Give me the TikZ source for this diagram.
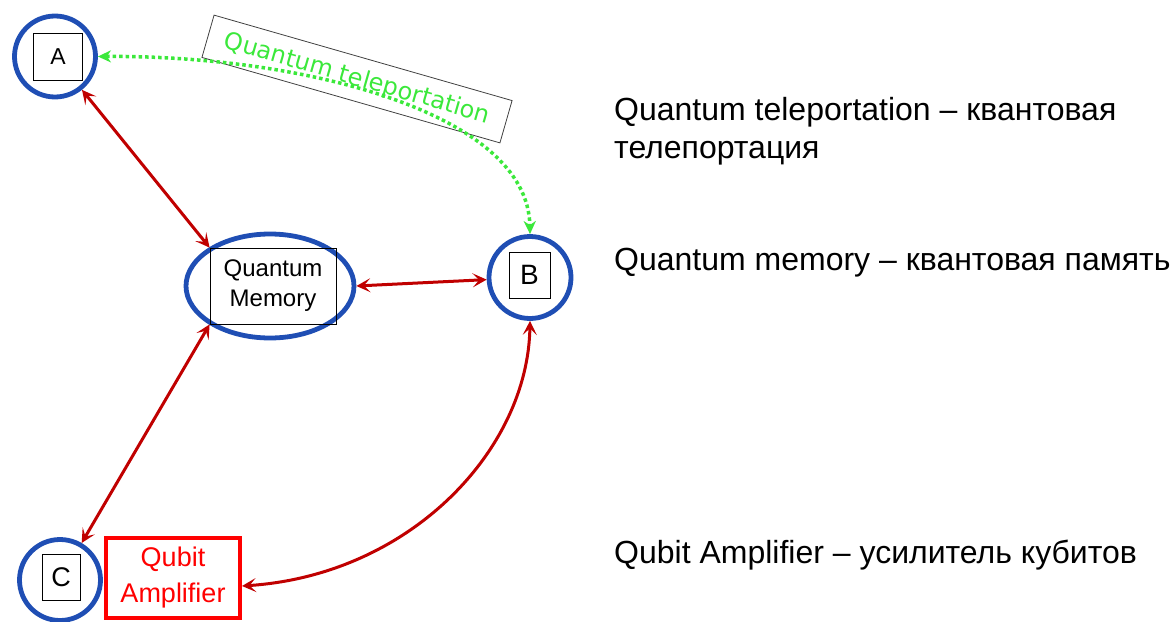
\documentclass[tikz,border=0pt]{standalone}
\usepackage{fontspec}
\setmainfont{Liberation Sans}
\newfontfamily\dvs{DejaVu Sans}
\usetikzlibrary{arrows.meta,shapes.geometric}
\definecolor{nblue}{HTML}{1F4EB4}
\definecolor{dred}{HTML}{C00000}
\definecolor{tgreen}{HTML}{3BE83B}
\begin{document}
\begin{tikzpicture}[x=1pt,y=-1pt,
  circ/.style={circle, draw=nblue, line width=4.8pt, minimum size=81pt, inner sep=0pt},
  lbl/.style={draw=black, line width=0.8pt, inner sep=0pt, minimum width=42pt, minimum height=46pt, font=\fontsize{26}{30}\selectfont},
  rtip/.tip={Stealth[length=14pt,width=14pt,inset=6.5pt]},
  gtip/.tip={Stealth[length=13pt,width=12pt,inset=4pt]},
  link/.style={draw=dred, line width=3pt, rtip-rtip},
  telelink/.style={draw=tgreen, line width=3.5pt, dash pattern=on 3.5pt off 3pt, gtip-gtip},
  rtext/.style={inner sep=0pt, font=\fontsize{32}{38}\selectfont, align=left}
]
\useasboundingbox (0,0) rectangle (1175,621);

% nodes
\node[circ] (A) at (55,56.5) {};
\node[lbl, minimum width=49pt, minimum height=47pt, font=\fontsize{23}{28}\selectfont] (Abox) at (58,56.5) {A};
\node[circ, minimum size=82pt] (B) at (530,277.5) {};
\node[lbl, minimum width=41pt, font=\fontsize{28}{32}\selectfont] (Bbox) at (529.5,275) {B};
\node[circ] (C) at (60,580) {};
\node[lbl, minimum width=38pt, font=\fontsize{27}{32}\selectfont] (Cbox) at (61,577) {C};

\node[ellipse, draw=nblue, line width=4.8pt, minimum width=168pt, minimum height=104pt] (QM) at (270,286) {};
\node[draw=black, line width=0.8pt, minimum width=126pt, minimum height=76pt, inner sep=0pt, align=center,
      font=\fontsize{24}{30}\selectfont] (QMr) at (273,286) {Quantum\\Memory};

\node[draw=red, line width=4pt, text=red, minimum width=134pt, minimum height=80pt, inner sep=0pt, align=center,
      font=\fontsize{27}{36}\selectfont] (Amp) at (173,578) {Qubit\\Amplifier};

% teleportation label
\node[rotate=-16, draw=black!75, line width=0.8pt, minimum width=310pt, minimum height=44pt, inner sep=0pt,
      text=tgreen, font=\dvs\fontsize{24}{28}\selectfont] (tele) at (357,79) {Quantum teleportation};

% connectors
\draw[link] (A) -- (QMr.north west);
\draw[link] (QM.east) -- (B);
\draw[link] (QMr.south west) -- (C);
\draw[link] (B.south) .. controls (528,450) and (410,575) .. ([yshift=-8pt]Amp.east);
\draw[telelink] (A.east) .. controls (300,55) and (528,112) .. (B.north);

% glossary
\node[rtext, anchor=north west] (g1) at (614,97) {Quantum teleportation – квантовая\\телепортация};
\node[rtext, anchor=base west] (g2) at (614,270) {Quantum memory – квантовая память};
\node[rtext, anchor=base west] (g3) at (614,563) {Qubit Amplifier – усилитель кубитов};
\end{tikzpicture}
\end{document}
